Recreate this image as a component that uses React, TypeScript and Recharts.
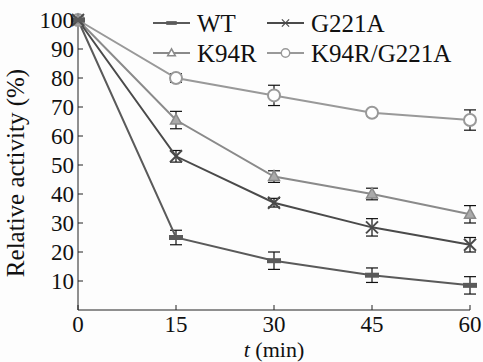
import React from 'react';
import { LineChart, Line, XAxis, YAxis, ErrorBar } from 'recharts';

const times = [0, 15, 30, 45, 60];
const wt = [100, 25, 17, 12, 8.5];
const wtErr = [0, 2.5, 3, 2.5, 3];
const g221a = [100, 53, 37, 28.5, 22.5];
const g221aErr = [0, 2, 1.5, 3, 2.5];
const k94r = [100, 65.5, 46, 40, 33];
const k94rErr = [0, 3, 2, 2, 3];
const dbl = [100, 80, 74, 68, 65.5];
const dblErr = [0, 1.5, 3.5, 1, 3.5];
const xTicks = [0, 15, 30, 45, 60];
const yTicks = [10, 20, 30, 40, 50, 60, 70, 80, 90, 100];

const data = times.map((t, i) => ({
  t,
  wt: wt[i], wtErr: wtErr[i],
  g221a: g221a[i], g221aErr: g221aErr[i],
  k94r: k94r[i], k94rErr: k94rErr[i],
  dbl: dbl[i], dblErr: dblErr[i],
}));

const FONT = 'Liberation Serif';
const C_WT = '#5a5a5a';
const C_G = '#4a4a4a';
const C_K = '#8a8a8a';
const C_D = '#999999';

const BarMark = ({ cx, cy, color, s = 1 }: any) => (
  <rect x={cx - 7 * s} y={cy - 2.5 * s} width={14 * s} height={5 * s} fill={color} />
);
const XMark = ({ cx, cy, color, s = 1 }: any) => (
  <g stroke={color} strokeWidth={2 * s}>
    <line x1={cx - 6 * s} y1={cy - 6 * s} x2={cx + 6 * s} y2={cy + 6 * s} />
    <line x1={cx - 6 * s} y1={cy + 6 * s} x2={cx + 6 * s} y2={cy - 6 * s} />
  </g>
);
const TriMark = ({ cx, cy, color, fill, s = 1 }: any) => (
  <polygon
    points={`${cx},${cy - 6 * s} ${cx - 5.5 * s},${cy + 4 * s} ${cx + 5.5 * s},${cy + 4 * s}`}
    fill={fill}
    stroke={color}
    strokeWidth={1.5}
  />
);
const CircMark = ({ cx, cy, color, s = 1 }: any) => (
  <circle cx={cx} cy={cy} r={6 * s} fill="#fff" stroke={color} strokeWidth={2 * s} />
);

const legendItems = [
  { name: 'WT', color: C_WT, mark: (x: number, y: number) => <BarMark cx={x} cy={y} color={C_WT} s={0.75} /> },
  { name: 'G221A', color: C_G, mark: (x: number, y: number) => <XMark cx={x} cy={y} color={C_G} s={0.6} /> },
  { name: 'K94R', color: C_K, mark: (x: number, y: number) => <TriMark cx={x} cy={y} color={C_K} fill="#fff" s={0.7} /> },
  { name: 'K94R/G221A', color: C_D, mark: (x: number, y: number) => <CircMark cx={x} cy={y} color={C_D} s={0.7} /> },
];

const LegendBox = () => (
  <svg width={330} height={75} style={{ position: 'absolute', left: 153, top: 0 }}>
    {legendItems.map((it, i) => {
      const col = i % 2;
      const row = Math.floor(i / 2);
      const x0 = col * 114;
      const y0 = 23 + row * 30;
      return (
        <g key={it.name}>
          <line x1={x0} y1={y0} x2={x0 + 37} y2={y0} stroke={it.color} strokeWidth={2} />
          {it.mark(x0 + 18.5, y0)}
          <text x={x0 + 44} y={y0 + 8.5} fontSize={25} fontFamily={FONT} fill="#111">
            {it.name}
          </text>
        </g>
      );
    })}
  </svg>
);

const tickStyle = { fontSize: 23, fontFamily: FONT, fill: '#111' };

export default function App() {
  return (
    <div style={{ position: 'absolute', left: 0, top: 0, width: 483, height: 362, background: '#fdfdfd', fontFamily: FONT }}>
      <LineChart width={483} height={362} data={data} margin={{ top: 20, right: 13, left: 0, bottom: 0 }}>
        <XAxis
          dataKey="t"
          type="number"
          domain={[0, 60]}
          ticks={xTicks}
          interval={0}
          height={52}
          stroke="#222"
          tickSize={-5}
          tickMargin={11}
          tick={tickStyle}
          label={{
            content: () => (
              <text x={274} y={357} textAnchor="middle" fontSize={22} fontFamily={FONT} fill="#111">
                <tspan fontStyle="italic">t</tspan> (min)
              </text>
            ),
          }}
        />
        <YAxis
          type="number"
          domain={[0, 100]}
          ticks={yTicks}
          interval={0}
          width={78}
          stroke="#222"
          tickSize={-5}
          tickMargin={9}
          tick={tickStyle}
          label={{
            content: () => (
              <text
                x={24}
                y={173}
                textAnchor="middle"
                fontSize={25}
                fontFamily={FONT}
                fill="#111"
                transform="rotate(-90, 24, 173)"
              >
                Relative activity (%)
              </text>
            ),
          }}
        />
        <Line dataKey="dbl" name="K94R/G221A" stroke={C_D} strokeWidth={2} isAnimationActive={false}
          dot={(p: any) => <CircMark key={p.key} cx={p.cx} cy={p.cy} color={C_D} />}>
          <ErrorBar dataKey="dblErr" width={6} stroke="#111" strokeWidth={1.2} />
        </Line>
        <Line dataKey="k94r" name="K94R" stroke={C_K} strokeWidth={2} isAnimationActive={false}
          dot={(p: any) => <TriMark key={p.key} cx={p.cx} cy={p.cy} color={C_K} fill="#aaa" />}>
          <ErrorBar dataKey="k94rErr" width={6} stroke="#111" strokeWidth={1.2} />
        </Line>
        <Line dataKey="g221a" name="G221A" stroke={C_G} strokeWidth={2} isAnimationActive={false}
          dot={(p: any) => <XMark key={p.key} cx={p.cx} cy={p.cy} color={C_G} />}>
          <ErrorBar dataKey="g221aErr" width={6} stroke="#111" strokeWidth={1.2} />
        </Line>
        <Line dataKey="wt" name="WT" stroke={C_WT} strokeWidth={2} isAnimationActive={false}
          dot={(p: any) => <BarMark key={p.key} cx={p.cx} cy={p.cy} color={C_WT} />}>
          <ErrorBar dataKey="wtErr" width={6} stroke="#111" strokeWidth={1.2} />
        </Line>
      </LineChart>
      <LegendBox />
    </div>
  );
}
